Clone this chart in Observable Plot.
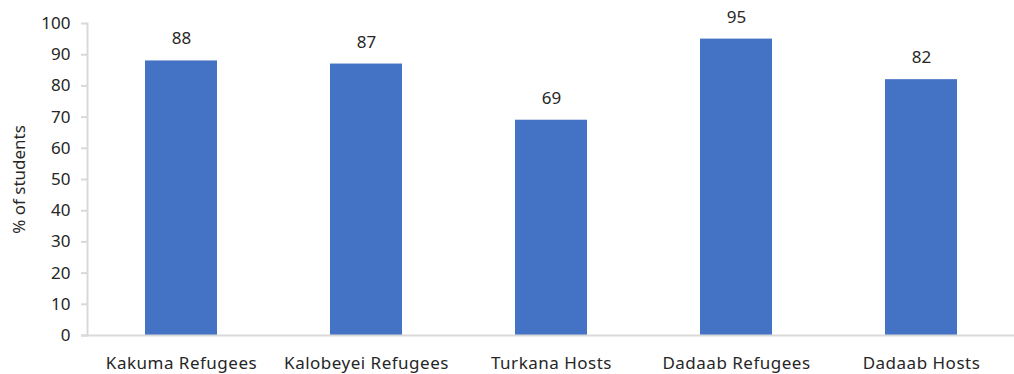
<!DOCTYPE html>
<html>
<head>
<meta charset="utf-8">
<script src="https://cdn.jsdelivr.net/npm/d3@7"></script>
<script src="https://cdn.jsdelivr.net/npm/@observablehq/plot@0.6"></script>
<style>
  html, body { margin: 0; padding: 0; background: #fff; }
  #chart svg { display: block; }
  #chart svg g[aria-label="x-axis tick label"] text { letter-spacing: 0.5px; }
</style>
</head>
<body>
<div id="chart"></div>
<script>
// Share of students per group
const groups = ["Kakuma Refugees", "Kalobeyei Refugees", "Turkana Hosts", "Dadaab Refugees", "Dadaab Hosts"];
const shares = [88, 87, 69, 95, 82];
const yTicks = [0, 10, 20, 30, 40, 50, 60, 70, 80, 90, 100];
const yTitle = "% of students";

const rows = groups.map((g, i) => ({group: g, value: shares[i]}));

const axisGray = "#d9d9d9";
const textColor = "#262626";

const chart = Plot.plot({
  width: 1014,
  height: 374,
  marginTop: 23,
  marginBottom: 39,
  marginLeft: 87,
  marginRight: 0,
  style: {fontFamily: "'Noto Sans', sans-serif", fontSize: "17px", color: textColor, background: "#fff"},
  x: {domain: groups, paddingInner: 0.613, paddingOuter: 0.3065},
  y: {domain: [0, 100]},
  marks: [
    Plot.barY(rows, {x: "group", y: "value", fill: "#4472c4"}),
    Plot.frame({anchor: "left", stroke: axisGray, strokeWidth: 2}),
    Plot.ruleY([0], {stroke: axisGray, strokeWidth: 2, insetLeft: -6}),
    Plot.axisY({
      ticks: yTicks, tickSize: 6, tickPadding: 11,
      stroke: axisGray, strokeWidth: 2, fill: textColor,
      label: yTitle, labelAnchor: "center", labelArrow: false, labelOffset: 75
    }),
    Plot.axisX({tickSize: 0, tickPadding: 21, label: null, fill: textColor}),
    Plot.text(rows, {x: "group", y: "value", text: d => String(d.value), dy: -22, fill: textColor, fontSize: 17})
  ]
});

document.getElementById("chart").appendChild(chart);
</script>
</body>
</html>
